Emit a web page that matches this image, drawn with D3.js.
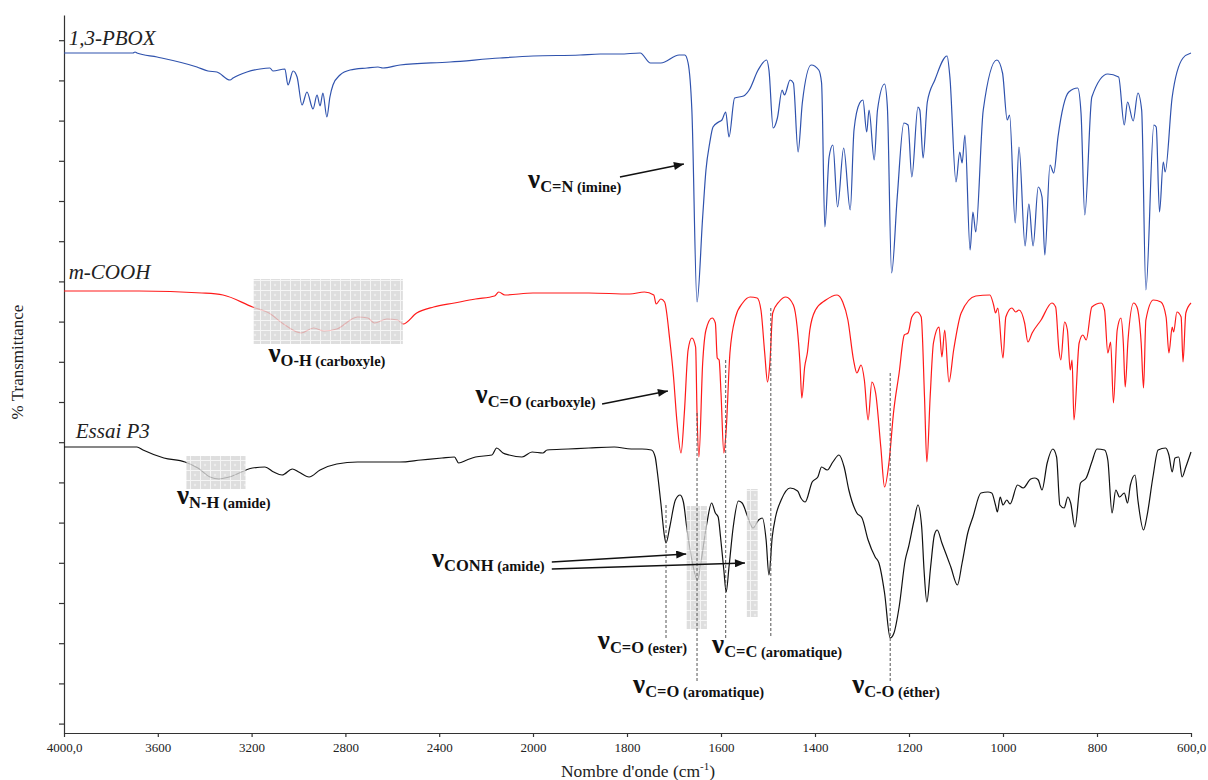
<!DOCTYPE html>
<html lang="fr">
<head>
<meta charset="UTF-8">
<title>Spectres IR – 1,3-PBOX, m-COOH, Essai P3</title>
<script src="https://d3js.org/d3.v7.min.js"></script>
<style>
  body { margin: 0; background: #fff; }
  svg { display: block; font-family: "Liberation Serif", "Times New Roman", serif; }
  .axis path, .axis line { stroke: #333; stroke-width: 1.2; }
  .axis text { fill: #222; }
  .band { font-weight: bold; fill: #111; }
  .name { font-style: italic; font-size: 21px; fill: #222; }
</style>
</head>
<body>
<svg width="1208" height="780"></svg>
<script>
// wavenumber ticks (cm-1) and their labels
const xTickValues = [4000, 3600, 3200, 2800, 2400, 2000, 1800, 1600, 1400, 1200, 1000, 800, 600];
const xTickLabels = ["4000,0", "3600", "3200", "2800", "2400", "2000", "1800", "1600", "1400", "1200", "1000", "800", "600,0"];
const yTickValues = [2.35, 12.4, 22.45, 32.5, 42.55, 52.6, 62.65, 72.7, 82.75, 92.8, 102.85, 112.9, 122.95, 133, 143.05, 153.1, 163.15, 173.2];

// spectra: [wavenumber, % transmittance (offset)]
const pbox = [
  [4000,170],[3706,170],[3697,170.25],[3689,170],[3603,169],[3433,166.5],[3386,165.5],[3348,165.25],[3292,163.25],[3279,163.75],
  [3220,165.25],[3164,166],[3122,166.25],[3109,165.5],[3058,166],[3045,162],[3023,165.5],[3006,164],[2985,157],[2964,160.25],
  [2938,156],[2921,159.5],[2908,156.75],[2896,160],[2879,154],[2866,159],[2853,162],[2823,164.5],[2780,165.75],[2708,166.25],
  [2661,166.5],[2640,166.25],[2567,167],[2354,167.75],[2141,168.75],[2000,169.25],[1900,169.5],[1857,169.75],[1815,169.75],[1772,170],
  [1750,167.5],[1728,167.5],[1689,169.5],[1677,169.5],[1670,167.5],[1662,155.75],[1651,107.75],[1639,129],[1632,140.75],[1624,147.5],
  [1617,151.5],[1605,152.75],[1598,153.25],[1590,155.25],[1583,149],[1571,158.75],[1552,159.25],[1540,160.75],[1521,165.75],[1503,168.25],
  [1498,165.75],[1489,151.25],[1480,153.75],[1470,160.75],[1465,159.5],[1453,163.25],[1446,162.5],[1436,145.25],[1427,157.5],[1408,167],
  [1392,165.75],[1386,162.5],[1379,126.5],[1370,144],[1362,147],[1352,131.5],[1339,146.25],[1325,130.75],[1317,150.75],[1305,157.5],
  [1298,158.25],[1290,150.25],[1285,155.75],[1274,143.25],[1267,155.75],[1252,162.25],[1246,156.5],[1237,115],[1225,134],[1211,152.5],
  [1202,152],[1194,139],[1181,156.5],[1177,155.75],[1170,143.75],[1161,157.75],[1145,163.25],[1119,169.25],[1113,164],[1100,137.75],
  [1092,145.25],[1087,142.5],[1081,149.5],[1070,120.75],[1064,130.25],[1058,125.25],[1042,155.75],[1013,168.25],[1001,165],[991,153.25],
  [986,154.5],[974,127.5],[966,146.5],[953,121.75],[945,132.25],[936,121.75],[925,136.5],[917,134],[911,119.5],[900,142],
  [892,140],[883,149],[860,160.25],[841,161.25],[834,155],[826,129.5],[811,159],[777,164.75],[754,164],[742,152],
  [735,157.75],[723,153],[713,160],[705,155.75],[696,110.75],[679,152],[674,151.5],[667,130.25],[659,142.75],[655,140.25],
  [640,159],[617,168.75],[600,170]
];
const mcooh = [
  [4000,110.5],[3680,110.5],[3412,110],[3322,109.5],[3196,106.5],[3126,105],[3070,102.5],[2989,100],[2936,101.25],[2891,100.5],
  [2837,101],[2748,104],[2704,103.75],[2676,102.5],[2623,103.5],[2577,103.25],[2554,102.25],[2496,105],[2424,106.5],[2335,107.5],
  [2245,108.5],[2164,109.25],[2146,110.25],[2120,109.5],[2000,110],[1970,110],[1881,110],[1794,109.75],[1763,110.25],[1743,109.5],
  [1738,107.25],[1728,108.5],[1720,107.75],[1709,98.25],[1701,89],[1694,78.25],[1685,70],[1678,80],[1670,95.75],[1662,98.75],
  [1654,96.5],[1651,80],[1647,69],[1639,92.5],[1632,100.75],[1619,103.75],[1612,102.5],[1608,93.75],[1604,93.25],[1600,85],
  [1594,70],[1589,75.75],[1581,95],[1569,104],[1554,107.5],[1538,109],[1523,108.75],[1515,105.75],[1507,95],[1501,87.75],
  [1496,92.5],[1490,105],[1477,107.75],[1462,109],[1446,107],[1438,101.5],[1432,92.5],[1428,83.75],[1422,91.5],[1416,95.25],
  [1411,100.75],[1399,105.75],[1377,108.25],[1353,109.5],[1341,107.75],[1330,103.25],[1318,93.25],[1311,90],[1302,92],[1295,88.25],
  [1287,78.25],[1279,87.75],[1271,85],[1260,71.5],[1252,61.5],[1242,68.25],[1233,80],[1221,90],[1210,99.5],[1202,100],
  [1194,104],[1183,105.25],[1174,104],[1167,84],[1162,67.75],[1155,84],[1148,97.5],[1136,101.5],[1130,94],[1124,100.75],
  [1115,87.75],[1105,95.75],[1089,105],[1058,109.25],[1028,109.5],[1020,107],[1016,105],[1011,106.25],[1000,93.75],[994,104],
  [981,106.25],[973,105.25],[966,105.75],[954,102.5],[947,97.75],[938,100],[919,103.25],[896,107.5],[888,106.5],[881,95.75],
  [877,93.25],[869,102.75],[863,100.75],[857,90.75],[853,93.25],[849,78.25],[838,97.5],[830,99.5],[823,98.25],[811,106.5],
  [791,107.5],[784,105.75],[777,95],[771,97.75],[765,82.5],[757,100.75],[749,103.75],[744,97.5],[740,86.5],[734,98.25],
  [722,107.5],[715,106.5],[706,97.5],[701,86.25],[696,103.25],[680,108.25],[664,107.75],[653,104],[647,95],[640,101.5],
  [637,100.25],[630,105.25],[621,104],[617,92.75],[611,105],[600,107.5]
];
const essai = [
  [4000,71.5],[3689,71.5],[3663,70.75],[3574,68.75],[3484,67.75],[3429,66.25],[3377,64],[3339,63.5],[3296,64],[3196,66.25],
  [3143,66.5],[3106,65.25],[3070,64.5],[3026,66],[2999,65.25],[2955,64],[2908,65.75],[2837,67.25],[2748,67.75],[2658,67.75],
  [2568,67.75],[2478,68.25],[2388,68.75],[2335,69],[2317,67.5],[2282,68.25],[2245,69],[2175,69.5],[2155,71.25],[2128,70],
  [2102,69.5],[2047,69],[2004,70.25],[1979,70],[1970,70.75],[1925,71],[1881,71.25],[1827,71.5],[1791,71],[1768,71],
  [1748,70.75],[1740,69],[1736,65.75],[1728,57.5],[1720,49],[1717,47.5],[1709,51.5],[1697,58.25],[1687,59.5],[1680,57.75],
  [1673,51.5],[1662,43.25],[1650,38.25],[1642,43.25],[1630,52.5],[1620,57.5],[1612,55],[1606,54],[1601,49],[1594,40.75],
  [1589,35.25],[1583,41.5],[1574,51.5],[1563,58],[1555,57.5],[1543,54],[1532,51.25],[1520,53.25],[1512,53.75],[1504,48.25],
  [1498,39.5],[1491,49],[1484,54],[1472,58.25],[1453,61.25],[1437,60.5],[1430,58.75],[1421,57.75],[1406,62.75],[1394,64],
  [1386,66.5],[1374,65.75],[1362,67.75],[1349,69.5],[1338,66.5],[1328,60.75],[1311,55],[1300,53.75],[1287,48.25],[1272,44],
  [1264,42.5],[1252,35],[1240,23.75],[1232,25],[1221,31.5],[1208,43.25],[1201,46.5],[1189,53.25],[1181,57],[1173,51.5],
  [1168,40.75],[1162,32.75],[1154,41.5],[1146,49.5],[1140,50.75],[1130,47.5],[1122,45],[1111,41.5],[1097,37],[1087,42.5],
  [1075,50],[1064,54],[1047,60],[1032,60.25],[1024,60],[1016,57],[1012,55.25],[1006,59],[1000,57],[992,58.25],
  [985,57.25],[969,62],[957,61.25],[941,63.5],[932,63.75],[925,63.25],[917,60.75],[906,67.5],[894,71],[886,69],
  [879,57],[870,56.25],[862,59],[856,57.5],[847,51.5],[835,62.5],[823,63.75],[811,67.75],[800,71],[784,70.75],
  [777,68.25],[768,55],[760,60.75],[752,59],[742,60],[735,57.5],[729,62],[719,64.5],[713,58.25],[701,50.75],
  [694,54],[681,64],[670,70.75],[654,71.25],[647,69.5],[640,65.25],[634,68.75],[626,69],[619,64],[611,66.5],[600,70.25]
];

const spectra = [
  { name: "1,3-PBOX", data: pbox, color: "#2f52ad", label: [3980, 172] },
  { name: "m-COOH", data: mcooh, color: "#ff1a1a", label: [3980, 113.5] },
  { name: "Essai P3", data: essai, color: "#111111", label: [3950, 73.75] }
];

// band assignments: [subscript, detail, wavenumber, T] for the label anchor
const bandLabels = [
  ["C=N", "(imine)", 2021, 136.25],
  ["O-H", "(carboxyle)", 3128, 92.75],
  ["C=O", "(carboxyle)", 2245, 82.5],
  ["N-H", "(amide)", 3518, 57.25],
  ["CONH", "(amide)", 2431, 41.5],
  ["C=O", "(ester)", 1862, 21],
  ["C=O", "(aromatique)", 1787, 10],
  ["C=C", "(aromatique)", 1619, 20],
  ["C-O", "(éther)", 1321, 10]
];
// arrows: [w1, T1, w2, T2]
const arrows = [
  [1815, 139, 1679, 142.25],
  [1853, 82.25, 1713, 85.5],
  [1960, 42.75, 1674, 44.75],
  [1960, 41, 1549, 42.5]
];
// dashed markers: [w, Ttop, Tbottom]
const dashes = [
  [1717, 57, 23.75],
  [1651, 80, 12.75],
  [1590, 93.25, 23.75],
  [1494, 106.25, 23.75],
  [1240, 90, 12.5]
];
// shaded regions: [w1, w2, Ttop, Tbottom]
const boxes = [
  [3191, 2555, 113.5, 97.25],
  [3478, 3226, 69.25, 61],
  [1673, 1630, 56.75, 26],
  [1545, 1522, 61, 29]
];

const svg = d3.select("svg");
const mLeft = 64, mRight = 1191, mTop = 15, mBottom = 733;

const x = d3.scaleLinear().domain([4000, 2000, 600]).range([mLeft, 533, mRight]);
const y = d3.scaleLinear().domain([0, 179.5]).range([mBottom, mTop]);

// hatch pattern for the shaded regions
const defs = svg.append("defs");
const pat = defs.append("pattern").attr("id", "hatch")
  .attr("patternUnits", "userSpaceOnUse").attr("width", 10).attr("height", 10);
pat.append("rect").attr("width", 10).attr("height", 10).attr("fill", "#d6d6d6");
pat.append("path").attr("d", "M0,0.5H10M0.5,0V10").attr("stroke", "#f2f2f2").attr("stroke-width", 1);
pat.append("circle").attr("cx", 5).attr("cy", 5).attr("r", 1.2).attr("fill", "#e8e8e8");

defs.append("marker").attr("id", "head")
  .attr("viewBox", "0 0 10 8").attr("refX", 10).attr("refY", 4)
  .attr("markerWidth", 11).attr("markerHeight", 8).attr("markerUnits", "userSpaceOnUse")
  .attr("orient", "auto")
  .append("path").attr("d", "M0,0L10,4L0,8z").attr("fill", "#111");

// axes
svg.append("g").attr("class", "axis")
  .attr("transform", `translate(0,${mBottom})`)
  .call(d3.axisBottom(x).tickValues(xTickValues)
    .tickFormat((d, i) => xTickLabels[i]).tickSize(4).tickSizeOuter(0).tickPadding(6))
  .attr("font-family", "Liberation Serif, serif").attr("font-size", 13);

svg.append("g").attr("class", "axis")
  .attr("transform", `translate(${mLeft},0)`)
  .call(d3.axisLeft(y).tickValues(yTickValues).tickFormat("").tickSize(5).tickSizeOuter(0));

const xTitle = svg.append("text")
  .attr("x", 638).attr("y", 777).attr("text-anchor", "middle")
  .style("font-size", "17.5px").attr("fill", "#222");
xTitle.append("tspan").text("Nombre d'onde (cm");
xTitle.append("tspan").attr("dy", -7).style("font-size", "11px").text("-1");
xTitle.append("tspan").attr("dy", 7).text(")");

svg.append("text")
  .attr("transform", `translate(23,362) rotate(-90)`)
  .attr("text-anchor", "middle").style("font-size", "17px").attr("fill", "#222")
  .text("% Transmittance");

// spectra
const line = d3.line().x(d => x(d[0])).y(d => y(d[1])).curve(d3.curveMonotoneX);

svg.selectAll(".spectrum").data(spectra).enter()
  .append("path").attr("class", "spectrum")
  .attr("d", d => line(d.data))
  .attr("fill", "none").attr("stroke", d => d.color).attr("stroke-width", 1.2);

svg.selectAll(".name").data(spectra).enter()
  .append("text").attr("class", "name")
  .attr("x", d => x(d.label[0])).attr("y", d => y(d.label[1]))
  .text(d => d.name);

// shaded regions
svg.selectAll(".box").data(boxes).enter()
  .append("rect").attr("class", "box")
  .attr("x", d => x(d[0])).attr("y", d => y(d[2]))
  .attr("width", d => x(d[1]) - x(d[0])).attr("height", d => y(d[3]) - y(d[2]))
  .attr("fill", "url(#hatch)").attr("opacity", 0.8);

// dashed markers
svg.selectAll(".dash").data(dashes).enter()
  .append("line").attr("class", "dash")
  .attr("x1", d => x(d[0])).attr("x2", d => x(d[0]))
  .attr("y1", d => y(d[1])).attr("y2", d => y(d[2]))
  .attr("stroke", "#555").attr("stroke-width", 1).attr("stroke-dasharray", "3,2");

// arrows
svg.selectAll(".arrow").data(arrows).enter()
  .append("line").attr("class", "arrow")
  .attr("x1", d => x(d[0])).attr("y1", d => y(d[1]))
  .attr("x2", d => x(d[2])).attr("y2", d => y(d[3]))
  .attr("stroke", "#111").attr("stroke-width", 1.5).attr("marker-end", "url(#head)");

// band labels
const lab = svg.selectAll(".band").data(bandLabels).enter()
  .append("text").attr("class", "band")
  .attr("x", d => x(d[2])).attr("y", d => y(d[3]));
lab.append("tspan").style("font-size", "27px").text("ν");
lab.append("tspan").attr("dy", 4).style("font-size", "16.5px").text(d => d[0]);
lab.append("tspan").style("font-size", "14.5px").text(d => " " + d[1]);
</script>
</body>
</html>
